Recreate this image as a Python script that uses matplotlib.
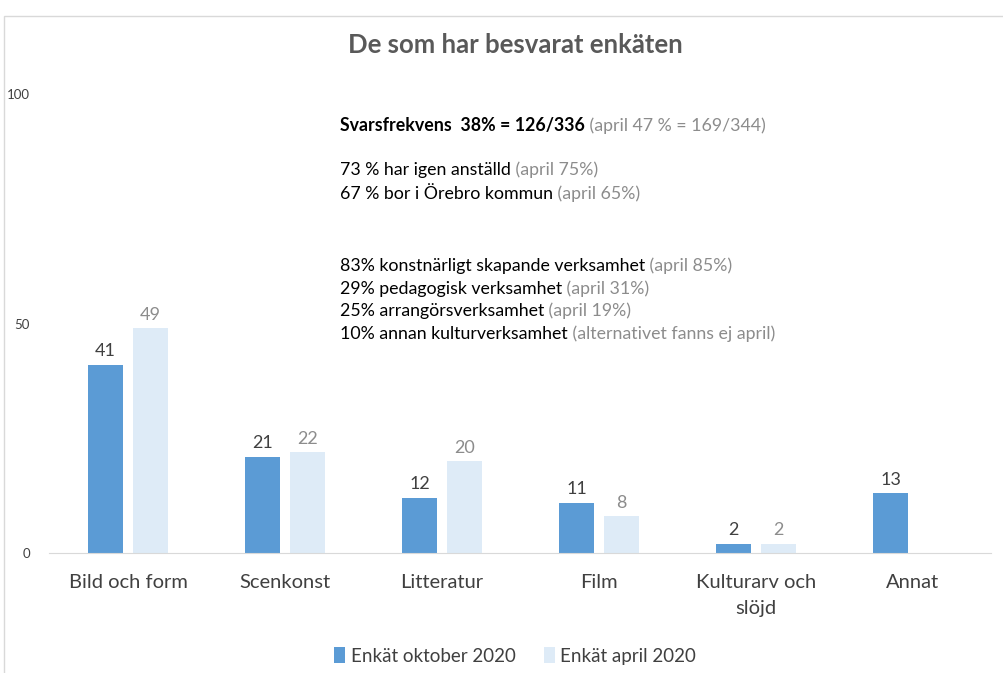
import matplotlib.pyplot as plt
import numpy as np
from matplotlib.patches import Rectangle

plt.rcParams['font.family'] = ['Lato', 'DejaVu Sans']

categories = ["Bild och form", "Scenkonst", "Litteratur", "Film",
              "Kulturarv och\nslöjd", "Annat"]
oktober = [41, 21, 12, 11, 2, 13]
april = [49, 22, 20, 8, 2, np.nan]

info_lines = [
    ("Svarsfrekvens  38% = 126/336", " (april 47 % = 169/344)", True),
    ("73 % har igen anställd", " (april 75%)", False),
    ("67 % bor i Örebro kommun", " (april 65%)", False),
    ("83% konstnärligt skapande verksamhet", " (april 85%)", False),
    ("29% pedagogisk verksamhet", " (april 31%)", False),
    ("25% arrangörsverksamhet", " (april 19%)", False),
    ("10% annan kulturverksamhet", " (alternativet fanns ej april)", False),
]
info_y = [125, 170, 194, 266, 289, 311, 334]  # pixel rows of the text block

dark = "#5B9BD5"
light = "#DEEBF7"

fig = plt.figure(figsize=(10.04, 6.73), dpi=100)
ax = fig.add_axes([0.0493, 0.1783, 0.9382, 0.682])

x = np.arange(len(categories))
w = 0.223
off = 0.143
b1 = ax.bar(x - off, oktober, w, color=dark, label="Enkät oktober 2020")
b2 = ax.bar(x + off, april, w, color=light, label="Enkät april 2020")

for xi, v in zip(x, oktober):
    ax.text(xi - off, v + 1.2, str(v), ha="center", va="bottom",
            fontsize=13, color="#404040")
for xi, v in zip(x, april):
    if not np.isnan(v):
        ax.text(xi + off, v + 1.2, str(int(v)), ha="center", va="bottom",
                fontsize=13, color="#8C8C8C")

ax.set_xlim(-0.5, len(categories) - 0.5)
ax.set_ylim(0, 100)
ax.set_yticks([0, 50, 100])
ax.set_xticks(x)
ax.set_xticklabels(categories, fontsize=14.5, color="#404040", linespacing=1.65)
ax.tick_params(axis="x", length=0, pad=15)
ax.tick_params(axis="y", length=0, labelsize=9.5, labelcolor="#404040", pad=14)
for s in ["top", "right", "left"]:
    ax.spines[s].set_visible(False)
ax.spines["bottom"].set_color("#D9D9D9")

fig.text(0.513, 1 - 45 / 673, "De som har besvarat enkäten", ha="center",
         va="center", fontsize=18.5, fontweight="bold", color="#595959")

for (black, gray, bold), py in zip(info_lines, info_y):
    t = fig.text(340 / 1004, 1 - py / 673, black, ha="left", va="center",
                 fontsize=12.8, color="black",
                 fontweight="bold" if bold else "normal")
    fig.canvas.draw()
    ax.annotate(gray, xy=(1, 0), xycoords=t, ha="left", va="bottom",
                fontsize=12.8, color="#8C8C8C")

fig.legend(handles=[b1, b2], loc="center", bbox_to_anchor=(0.513, 1 - 656 / 673),
           ncol=2, frameon=False, fontsize=13.5, handlelength=0.6,
           handleheight=0.9, handletextpad=0.3, columnspacing=1.5,
           labelcolor="#404040")

fig.add_artist(Rectangle((4 / 1004, -0.01), 1.0, 1.01 - 16 / 673,
                         transform=fig.transFigure, fill=False,
                         edgecolor="#D9D9D9", linewidth=1))

fig.savefig("out.png", dpi=100)
